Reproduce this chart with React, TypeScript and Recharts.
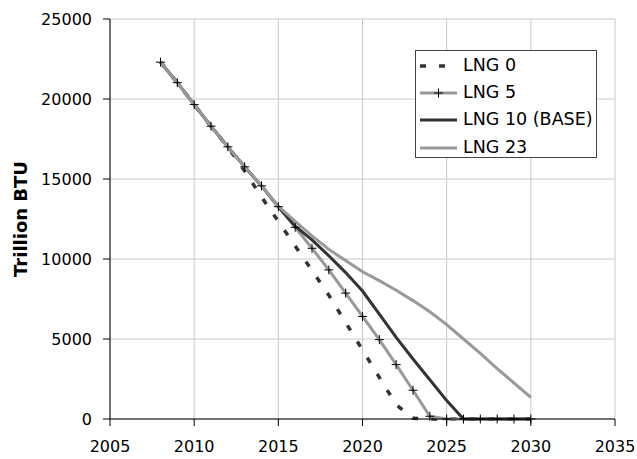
import React from 'react';
import {
  CartesianGrid, Legend, Line, LineChart, XAxis, YAxis,
} from 'recharts';

const years = [
  2008, 2009, 2010, 2011, 2012, 2013, 2014, 2015, 2016, 2017, 2018, 2019,
  2020, 2021, 2022, 2023, 2024, 2025, 2026, 2027, 2028, 2029, 2030,
];
const lng0 = [
  22300, 21020, 19650, 18300, 17000, 15500, 13880, 12350, 10820, 9280, 7740, 6030,
  4320, 2600, 900, 50, 0, 0, 0, 0, 0, 0, 0,
];
const lng5 = [
  22300, 21020, 19650, 18300, 17010, 15760, 14570, 13270, 11980, 10670, 9320, 7870,
  6410, 4960, 3400, 1800, 170, 0, 0, 0, 0, 0, 0,
];
const lng10 = [
  22300, 21020, 19650, 18300, 17010, 15760, 14570, 13270, 12050, 11200, 10200, 9150,
  8000, 6550, 5100, 3750, 2450, 1150, 0, 0, 0, 0, 0,
];
const lng23 = [
  22300, 21020, 19650, 18300, 17010, 15760, 14570, 13300, 12350, 11450, 10600, 9900,
  9200, 8650, 8050, 7400, 6700, 5900, 5000, 4100, 3150, 2250, 1350,
];
const xTicks = [2005, 2010, 2015, 2020, 2025, 2030, 2035];
const yTicks = [0, 5000, 10000, 15000, 20000, 25000];

const data = years.map((year, i) => ({
  year,
  lng0: lng0[i],
  lng5: lng5[i],
  lng10: lng10[i],
  lng23: lng23[i],
}));

const font = '"DejaVu Sans", Verdana, sans-serif';
const DARK = '#333333';
const GRAY = '#999999';

const PlusDot = (props: any) => {
  const { cx, cy, index } = props;
  if (cx == null || cy == null) return <g key={`d${index}`} />;
  return (
    <path
      key={`d${index}`}
      d={`M${cx - 4.5},${cy}H${cx + 4.5}M${cx},${cy - 4.5}V${cy + 4.5}`}
      stroke="#000"
      strokeWidth={1}
      fill="none"
    />
  );
};

const legendItems = [
  { name: 'LNG 0', color: DARK, dash: '6 13', plus: false },
  { name: 'LNG 5', color: GRAY, dash: undefined, plus: true },
  { name: 'LNG 10 (BASE)', color: DARK, dash: undefined, plus: false },
  { name: 'LNG 23', color: GRAY, dash: undefined, plus: false },
];

const renderLegend = () => (
  <div
    style={{
      width: 182,
      height: 108,
      boxSizing: 'border-box',
      border: '1px solid #444',
      background: '#fff',
      padding: '1px 0 0 4px',
      fontFamily: font,
      fontSize: 17.5,
      color: '#000',
    }}
  >
    {legendItems.map((item) => (
      <div key={item.name} style={{ display: 'flex', alignItems: 'center', height: 27.3 }}>
        <svg width={37} height={12}>
          <line
            x1={0}
            y1={6}
            x2={37}
            y2={6}
            stroke={item.color}
            strokeWidth={item.dash ? 3.5 : 3}
            strokeDasharray={item.dash}
          />
          {item.plus && <path d="M14,6H23M18.5,1.5V10.5" stroke="#000" strokeWidth={1} />}
        </svg>
        <span style={{ marginLeft: 6, lineHeight: 1 }}>{item.name}</span>
      </div>
    ))}
  </div>
);

const App = () => (
  <div style={{ position: 'absolute', left: 0, top: 0, background: '#fff' }}>
    <LineChart
      width={637}
      height={459}
      data={data}
      margin={{ top: 19, right: 22, bottom: 10, left: 0 }}
    >
      <CartesianGrid stroke="#c8c8c8" />
      <XAxis
        dataKey="year"
        type="number"
        domain={[2005, 2035]}
        ticks={xTicks}
        height={30}
        tickSize={7}
        tickMargin={15}
        stroke="#000"
        tick={{ fill: '#000', fontSize: 16, fontFamily: font }}
      />
      <YAxis
        domain={[0, 25000]}
        ticks={yTicks}
        width={110}
        tickSize={7}
        tickMargin={11}
        stroke="#000"
        tick={{ fill: '#000', fontSize: 16, fontFamily: font }}
        label={{
          value: 'Trillion BTU',
          angle: -90,
          position: 'center',
          dx: -34,
          style: { fontFamily: font, fontSize: 18, fontWeight: 'bold', fill: '#000' },
        }}
      />
      <Legend
        layout="vertical"
        align="center"
        verticalAlign="middle"
        content={renderLegend}
        wrapperStyle={{ left: 415, top: 50, width: 182, height: 108 }}
      />
      <Line
        dataKey="lng0"
        name="LNG 0"
        stroke={DARK}
        strokeWidth={3.5}
        strokeDasharray="6 13"
        dot={false}
        activeDot={false}
        isAnimationActive={false}
      />
      <Line
        dataKey="lng5"
        name="LNG 5"
        stroke={GRAY}
        strokeWidth={3}
        dot={PlusDot}
        activeDot={false}
        isAnimationActive={false}
      />
      <Line
        dataKey="lng10"
        name="LNG 10 (BASE)"
        stroke={DARK}
        strokeWidth={3}
        dot={false}
        activeDot={false}
        isAnimationActive={false}
      />
      <Line
        dataKey="lng23"
        name="LNG 23"
        stroke={GRAY}
        strokeWidth={3}
        dot={false}
        activeDot={false}
        isAnimationActive={false}
      />
    </LineChart>
  </div>
);

export default App;
